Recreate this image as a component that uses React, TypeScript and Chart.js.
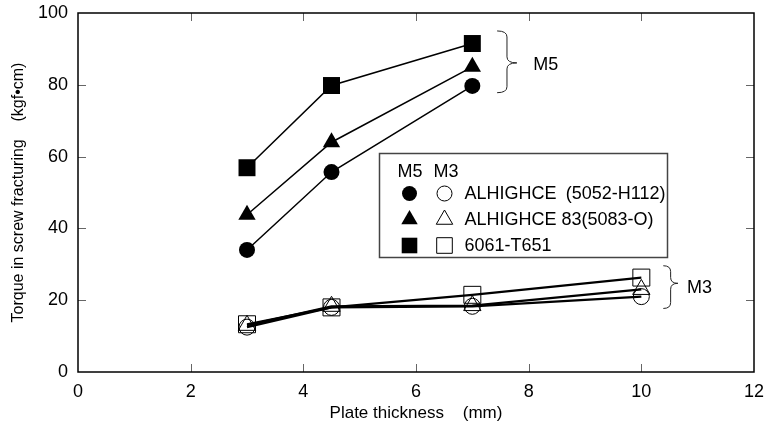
import React, { useEffect, useRef } from "react";
import { Chart, registerables } from "chart.js";

Chart.register(...registerables);

// ---- data ----
const thicknessM5 = [3, 4.5, 7];
const thicknessM3 = [3, 4.5, 7, 10];
const m5Alhighce = [34, 55.7, 79.7];
const m5Alhighce83 = [43.8, 64, 85];
const m5T651 = [56.9, 79.8, 91.5];
const m3Alhighce = [12.5, 18, 18.3, 21];
const m3Alhighce83 = [13, 18.3, 18.5, 23];
const m3T651 = [13.3, 18, 21.5, 26.3];

const xTitle = "Plate thickness    (mm)";
const yTitle = "Torque in screw fracturing    (kgf\u2022cm)";
const legendHeader = ["M5", "M3"];
const legendNames = ["ALHIGHCE", "ALHIGHCE 83(5083-O)", "6061-T651"];
const legendSuffix = ["(5052-H112)", "", ""];

const FONT = "'Liberation Sans', Arial, sans-serif";

const pts = (xs: number[], ys: number[]) => xs.map((x, i) => ({ x, y: ys[i] }));

function drawMarker(ctx: CanvasRenderingContext2D, kind: string, x: number, y: number, filled: boolean) {
  ctx.beginPath();
  if (kind === "circle") {
    ctx.arc(x, y, 7.5, 0, Math.PI * 2);
  } else if (kind === "triangle") {
    const r = 9.5;
    ctx.moveTo(x, y - r);
    ctx.lineTo(x + r * Math.sin((2 * Math.PI) / 3), y + r / 2);
    ctx.lineTo(x - r * Math.sin((2 * Math.PI) / 3), y + r / 2);
    ctx.closePath();
  } else {
    const s = 7.8;
    ctx.rect(x - s, y - s, 2 * s, 2 * s);
  }
  if (filled) {
    ctx.fillStyle = "#000";
    ctx.fill();
  } else {
    ctx.strokeStyle = "#000";
    ctx.lineWidth = 1;
    ctx.stroke();
  }
}

function drawBrace(ctx: CanvasRenderingContext2D, x0: number, x1: number, yTop: number, yMid: number, yBot: number) {
  const xm = (x0 + x1) / 2;
  const r = Math.min(6, (yMid - yTop) / 3);
  ctx.beginPath();
  ctx.moveTo(x0, yTop);
  ctx.quadraticCurveTo(xm, yTop, xm, yTop + r);
  ctx.lineTo(xm, yMid - r);
  ctx.quadraticCurveTo(xm, yMid, x1, yMid);
  ctx.quadraticCurveTo(xm, yMid, xm, yMid + r);
  ctx.lineTo(xm, yBot - r);
  ctx.quadraticCurveTo(xm, yBot, x0, yBot);
  ctx.stroke();
}

const decorPlugin = {
  id: "decor",
  beforeDatasetsDraw(chart: any) {
    const { ctx, chartArea: a, scales } = chart;
    const xs = scales.x;
    const ys = scales.y;
    ctx.save();
    ctx.strokeStyle = "#666";
    ctx.lineWidth = 1;
    const tl = 8;
    xs.ticks.forEach((t: any) => {
      if (t.value <= xs.min || t.value >= xs.max) return;
      const px = Math.round(xs.getPixelForValue(t.value)) + 0.5;
      ctx.beginPath();
      ctx.moveTo(px, a.bottom);
      ctx.lineTo(px, a.bottom - tl);
      ctx.moveTo(px, a.top);
      ctx.lineTo(px, a.top + tl);
      ctx.stroke();
    });
    ys.ticks.forEach((t: any) => {
      if (t.value <= ys.min || t.value >= ys.max) return;
      const py = Math.round(ys.getPixelForValue(t.value)) + 0.5;
      ctx.beginPath();
      ctx.moveTo(a.left, py);
      ctx.lineTo(a.left + tl, py);
      ctx.moveTo(a.right, py);
      ctx.lineTo(a.right - tl, py);
      ctx.stroke();
    });
    ctx.strokeStyle = "#000";
    ctx.lineWidth = 1.5;
    ctx.strokeRect(a.left, a.top, a.right - a.left, a.bottom - a.top);
    ctx.restore();
  },
  afterDatasetsDraw(chart: any) {
    const { ctx, scales } = chart;
    const X = (v: number) => scales.x.getPixelForValue(v);
    const Y = (v: number) => scales.y.getPixelForValue(v);
    ctx.save();
    // braces
    ctx.strokeStyle = "#222";
    ctx.lineWidth = 1;
    drawBrace(ctx, X(7.44), X(7.79), Y(95), Y(86.1), Y(77.8));
    drawBrace(ctx, X(10.39), X(10.65), Y(29.6), Y(24.7), Y(17.7));
    ctx.fillStyle = "#000";
    ctx.font = `18px ${FONT}`;
    ctx.textAlign = "left";
    ctx.textBaseline = "middle";
    ctx.fillText("M5", X(8.08), Y(85.6));
    ctx.fillText("M3", X(10.81), Y(23.3));

    // legend box
    const bl = Math.round(X(5.34)) + 0.5;
    const br = Math.round(X(10.46)) + 0.5;
    const bt = Math.round(Y(60.9)) + 0.5;
    const bb = Math.round(Y(31.9)) + 0.5;
    ctx.fillStyle = "#fff";
    ctx.fillRect(bl, bt, br - bl, bb - bt);
    ctx.strokeStyle = "#444";
    ctx.lineWidth = 1.5;
    ctx.strokeRect(bl, bt, br - bl, bb - bt);
    ctx.fillStyle = "#000";
    ctx.font = `18px ${FONT}`;
    ctx.fillText(legendHeader[0], bl + 18, bt + 19);
    ctx.fillText(legendHeader[1], bl + 54, bt + 19);
    const kinds = ["circle", "triangle", "rect"];
    kinds.forEach((k, i) => {
      const cy = bt + 40 + i * 26;
      drawMarker(ctx, k, bl + 30, cy, true);
      drawMarker(ctx, k, bl + 65, cy, false);
      ctx.fillStyle = "#000";
      ctx.textAlign = "left";
      ctx.fillText(legendNames[i], bl + 85, cy + 1);
      if (legendSuffix[i]) {
        ctx.textAlign = "right";
        ctx.fillText(legendSuffix[i], br - 2, cy + 1);
      }
    });
    ctx.restore();
  },
};

export default function App() {
  const ref = useRef<HTMLCanvasElement | null>(null);
  useEffect(() => {
    document.body.style.margin = "0";
    const canvas = ref.current;
    if (!canvas) return;
    const filled = (label: string, xs: number[], ys: number[], style: string, r: number) => ({
      label,
      data: pts(xs, ys),
      borderColor: "#000",
      borderWidth: 1.5,
      pointStyle: style,
      pointRadius: r,
      pointBackgroundColor: "#000",
      pointBorderColor: "#000",
      pointBorderWidth: 0,
      fill: false,
      tension: 0,
    });
    const open = (label: string, xs: number[], ys: number[], style: string, r: number) => ({
      label,
      data: pts(xs, ys),
      borderColor: "#000",
      borderWidth: 2.2,
      pointStyle: style,
      pointRadius: r,
      pointBackgroundColor: "rgba(0,0,0,0)",
      pointBorderColor: "#000",
      pointBorderWidth: 1,
      fill: false,
      tension: 0,
    });
    const chart = new Chart(canvas, {
      type: "line",
      data: {
        datasets: [
          filled("M5 ALHIGHCE", thicknessM5, m5Alhighce, "circle", 8),
          filled("M5 ALHIGHCE 83", thicknessM5, m5Alhighce83, "triangle", 10),
          filled("M5 6061-T651", thicknessM5, m5T651, "rect", 12),
          open("M3 ALHIGHCE", thicknessM3, m3Alhighce, "circle", 8),
          open("M3 ALHIGHCE 83", thicknessM3, m3Alhighce83, "triangle", 10),
          open("M3 6061-T651", thicknessM3, m3T651, "rect", 12),
        ],
      },
      options: {
        responsive: false,
        animation: false,
        layout: { padding: { left: 0, top: 11, right: 23, bottom: 0 } },
        plugins: { legend: { display: false }, tooltip: { enabled: false } },
        scales: {
          x: {
            type: "linear",
            min: 0,
            max: 12,
            ticks: { stepSize: 2, color: "#000", font: { family: FONT, size: 18 }, padding: 9 },
            grid: { drawOnChartArea: false, drawTicks: false },
            border: { display: false },
            title: { display: true, text: xTitle, color: "#000", font: { family: FONT, size: 17 }, padding: { top: 0, bottom: 10 } },
            afterFit: (s: any) => {
              s.height = 62;
              s.paddingLeft = 0;
              s.paddingRight = 0;
            },
          },
          y: {
            type: "linear",
            min: 0,
            max: 100,
            ticks: { stepSize: 20, color: "#000", font: { family: FONT, size: 18 }, padding: 10 },
            grid: { drawOnChartArea: false, drawTicks: false },
            border: { display: false },
            title: { display: true, text: yTitle, color: "#000", font: { family: FONT, size: 16 }, padding: { top: 9, bottom: 0 } },
            afterFit: (s: any) => {
              s.width = 78;
              s.paddingTop = 0;
              s.paddingBottom = 0;
            },
          },
        },
      },
      plugins: [decorPlugin],
    } as any);
    return () => chart.destroy();
  }, []);
  return (
    <div style={{ position: "fixed", left: 0, top: 0, width: 777, height: 434, background: "#fff" }}>
      <canvas ref={ref} width={777} height={434} style={{ display: "block" }} />
    </div>
  );
}
